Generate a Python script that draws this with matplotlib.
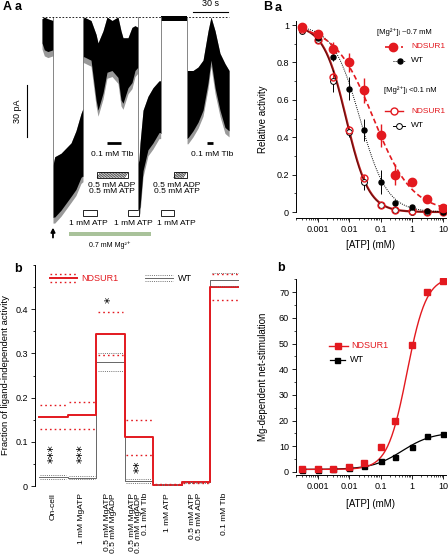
import numpy as np
import matplotlib
matplotlib.use('Agg')
import matplotlib.pyplot as plt
from matplotlib.patches import Rectangle
from matplotlib.ticker import LogLocator, MultipleLocator, FuncFormatter, NullFormatter

plt.rcParams['font.family'] = ['Liberation Sans', 'DejaVu Sans']
plt.rcParams['axes.linewidth'] = 0.7

RED = '#e3191f'
DARKRED = '#b81c1c'

# ---------------- A a : current trace (envelope of the noisy record, s / pA)
trace1_t = [0.0, 2.0, 5.0, 9.4]
trace1_up = [-1, 0, -1, -2]
trace1_lo = [-15, -19, -20, -19]
trace2_t = [9.4, 10.9, 16.3, 24.9, 29.1, 33.4, 35.1]
trace2_up = [-86, -81, -79, -73, -66, -56, -53]
trace2_lo = [-116, -116, -112, -104, -100, -93, -92]
trace3_t = [35.1, 36.0, 42.0, 46.3, 48.0, 52.3, 55.7, 60.0, 65.1, 67.7, 69.4, 73.7, 77.1, 79.7, 82.3]
trace3_up = [-2, 0, -2, -10, -15, -8, 0, -2, 0, -8, -12, -12, -6, -5, -6]
trace3_lo = [-23, -23, -25, -48, -54, -44, -32, -31, -35, -48, -50, -41, -38, -31, -29]
trace4_t = [82.3, 83.1, 84.0, 86.6, 90.8, 95.1, 100.3, 101.7]
trace4_up = [-85, -83, -73, -54, -46, -41, -37, -37]
trace4_lo = [-112, -112, -110, -89, -77, -73, -67, -67]
trace5_t = [101.7, 124.3]
trace5_up = [0.6, 0.6]
trace5_lo = [-2.0, -2.0]
trace6_t = [124.3, 125.1, 129.4, 133.7, 138.0, 142.3, 144.8, 148.3, 152.5, 156.8, 160.3]
trace6_up = [-31, -31, -31, -29, -25, -8, 0, -8, -21, -27, -31]
trace6_lo = [-70, -70, -66, -61, -54, -38, -25, -41, -54, -64, -66]

tlb_on, tlb_off = [55.7, 141.4], [67.7, 146.6]
tlb_text_x = [60.0, 146.0]
adp_on, adp_off = [47.0, 112.7], [73.7, 124.3]
adp_text_x = [60.0, 115.5]
atp_on, atp_off = [35.1, 73.7, 101.7], [47.0, 83.1, 112.7]
atp_text_x = [39.4, 78.0, 115.5]
mg_on, mg_off = 23.0, 93.4
wash_t = 9.4

# ---------------- A b : fraction of ligand-independent activity
cat_labels = ['On-cell', '1 mM MgATP', '0.5 mM MgATP\n0.5 mM MgADP',
              '0.5 mM MgATP\n0.5 mM MgADP\n0.1 mM Tlb', '1 mM ATP',
              '0.5 mM ATP\n0.5 mM ADP', '0.1 mM Tlb']
nd_mean = [0.156, 0.160, 0.345, 0.110, 0.003, 0.008, 0.450]
nd_hi = [0.183, 0.189, 0.393, 0.150, 0.005, 0.010, 0.480]
nd_lo = [0.129, 0.130, 0.296, 0.070, 0.002, 0.006, 0.420]
wt_mean = [0.021, 0.019, 0.280, 0.012, 0.003, 0.008, 0.467]
wt_hi = [0.026, 0.023, 0.300, 0.016, 0.004, 0.009, 0.482]
wt_lo = [0.016, 0.015, 0.260, 0.006, 0.002, 0.007, 0.452]
stars = ['***', '***', '*', '**', '', '', '']
star_y = [0.074, 0.074, 0.42, 0.043, 0, 0, 0]
ab_yticks = [0, 0.1, 0.2, 0.3, 0.4]
ab_ylabels = ['0', '0.1', '0.2', '0.3', '0.4']

# ---------------- B a : ATP inhibition
atp = [0.0003, 0.001, 0.003, 0.01, 0.03, 0.1, 0.3, 1, 3, 10]
nd_mg = [0.99, 0.95, 0.87, 0.80, 0.65, 0.41, 0.20, 0.16, 0.07, 0.023]
nd_mg_err = [0.0, 0.01, 0.04, 0.05, 0.065, 0.06, 0.055, 0.02, 0.01, 0.0]
wt_mg = [0.985, 0.93, 0.83, 0.66, 0.44, 0.16, 0.05, 0.025, 0.008, 0.0]
wt_mg_err = [0.0, 0.01, 0.02, 0.06, 0.06, 0.065, 0.015, 0.01, 0.0, 0.0]
nd_0 = [0.98, 0.92, 0.72, 0.44, 0.18, 0.04, 0.01, 0.003, 0.0, 0.0]
nd_0_err = [0.0, 0.01, 0.03, 0.02, 0.02, 0.01, 0.0, 0.0, 0.0, 0.0]
wt_0 = [0.97, 0.92, 0.70, 0.43, 0.16, 0.04, 0.01, 0.002, 0.0, 0.0]
wt_0_err = [0.0, 0.01, 0.06, 0.03, 0.04, 0.01, 0.0, 0.0, 0.0, 0.0]
# Hill fits (IC50 in mM, Hill coefficient)
nd_mg_fit = (0.06, 0.7)
wt_mg_fit = (0.022, 1.0)
nd_0_fit = (0.008, 1.2)
wt_0_fit = (0.0078, 1.2)

# ---------------- B b : Mg-dependent net stimulation
nd_stim = [1.0, 1.0, 1.1, 1.8, 3.4, 9.9, 19.7, 49.3, 70.0, 74.3]
wt_stim = [0.9, 0.9, 1.0, 1.5, 2.5, 4.2, 5.7, 9.6, 14.1, 14.8]
# base, max, EC50 (mM), Hill coefficient
nd_stim_fit = (1.0, 76.0, 0.7, 1.4)
wt_stim_fit = (1.0, 15.5, 0.5, 0.9)


def fpos(x0, y0, x1, y1):
    # pixel box -> figure fraction rect
    return [x0 / 448, 1 - y1 / 560, (x1 - x0) / 448, (y1 - y0) / 560]


fig = plt.figure(figsize=(4.48, 5.6), dpi=100)

# ======================= A a
ax = fig.add_axes(fpos(0, 0, 230, 260))
ax.set_xlim(-36.0, 161.1)
ax.set_ylim(-140.9, 9.9)
ax.axis('off')

segs = [(trace1_t, trace1_up, trace1_lo), (trace2_t, trace2_up, trace2_lo),
        (trace3_t, trace3_up, trace3_lo), (trace4_t, trace4_up, trace4_lo),
        (trace5_t, trace5_up, trace5_lo), (trace6_t, trace6_up, trace6_lo)]
for i, (t, up, lo) in enumerate(segs):
    t, up, lo = np.array(t), np.array(up), np.array(lo)
    fringe = 0.5 if i == 4 else 3.5
    ax.fill_between(t, lo - fringe, up, color='0.6', lw=0)
    ax.fill_between(t, lo, up, color='k', lw=0)
    if i > 0:
        prev_lo = segs[i - 1][2][-1]
        ax.plot([t[0], t[0]], [0, min(prev_lo, lo[0])], color='0.45', lw=0.6)

ax.plot([0, 160], [0, 0], color='k', lw=0.6, ls=(0, (2, 2)))

# scale bars
ax.plot([129.4, 159.4], [2.9, 2.9], color='k', lw=0.8)
ax.text(144.4, 5.5, '30 s', ha='center', va='bottom', fontsize=6.5)
ax.plot([-12.9, -12.9], [-39.4, -69.6], color='k', lw=0.8)
ax.text(-21.4, -54.5, '30 pA', rotation=90, ha='center', va='center', fontsize=6.5)

for a, b, tx in zip(tlb_on, tlb_off, tlb_text_x):
    ax.plot([a, b], [-73, -73], color='k', lw=2.0, solid_capstyle='butt')
    ax.text(tx, -79.5, '0.1 mM Tlb', ha='center', va='center', fontsize=6)
for a, b, tx in zip(adp_on, adp_off, adp_text_x):
    ax.add_patch(Rectangle((a, -93.4), b - a, 3.4, facecolor='white',
                           edgecolor='k', lw=0.6))
    # diagonal hatching inside the ADP bar
    for x0 in np.arange(a + 0.3, b - 3.0, 1.3):
        ax.plot([x0, x0 + 2.7], [-93.1, -90.3], color='k', lw=0.4)
    ax.text(tx, -95.5, '0.5 mM ADP\n0.5 mM ATP', ha='center', va='top',
            fontsize=6, linespacing=0.95)
for a, b, tx in zip(atp_on, atp_off, atp_text_x):
    ax.add_patch(Rectangle((a, -115.4), b - a, 3.4, facecolor='white',
                           edgecolor='k', lw=0.6))
    ax.text(tx, -120, '1 mM ATP', ha='center', va='center', fontsize=6)
ax.add_patch(Rectangle((mg_on, -127.2), mg_off - mg_on, 2.6, facecolor='#a9c29a',
                       edgecolor='none'))
ax.text((mg_on + mg_off) / 2, -132.5, '0.7 mM Mg²⁺', ha='center',
        va='center', fontsize=5)
ax.annotate('', xy=(wash_t, -120.5), xytext=(wash_t, -129.5),
            arrowprops=dict(arrowstyle='-|>', color='k', lw=1.3, mutation_scale=6))

# ======================= A b
ax = fig.add_axes(fpos(35, 265, 239, 486))
edges = np.arange(len(cat_labels) + 1)
ax.step(edges, wt_mean + [wt_mean[-1]], where='post', color='0.4', lw=0.7)
ax.step(edges, nd_mean + [nd_mean[-1]], where='post', color=RED, lw=1.4)
for i in range(len(cat_labels)):
    ax.plot([i + 0.05, i + 0.95], [wt_hi[i]] * 2, color='0.45', lw=0.7, ls=(0, (1, 1.2)))
    ax.plot([i + 0.05, i + 0.95], [wt_lo[i]] * 2, color='0.45', lw=0.7, ls=(0, (1, 1.2)))
    ax.plot([i + 0.05, i + 0.95], [nd_hi[i]] * 2, color=RED, lw=1.0, ls=(0, (1.2, 2.2)))
    ax.plot([i + 0.05, i + 0.95], [nd_lo[i]] * 2, color=RED, lw=1.0, ls=(0, (1.2, 2.2)))
    if stars[i]:
        ax.text(i + 0.5, star_y[i], stars[i], rotation=90, ha='center',
                va='center', fontsize=9, family='DejaVu Sans')
ax.set_xlim(-0.14, 7)
ax.set_ylim(0, 0.5)
for s in ['top', 'right', 'bottom']:
    ax.spines[s].set_visible(False)
ax.set_yticks(ab_yticks)
ax.set_yticklabels(ab_ylabels)
ax.yaxis.set_minor_locator(MultipleLocator(0.05))
ax.tick_params(axis='y', which='major', length=3, width=0.6, labelsize=6.5, pad=2)
ax.tick_params(axis='y', which='minor', length=1.5, width=0.6)
ax.set_xticks(np.arange(len(cat_labels)) + 0.5)
ax.set_xticklabels(cat_labels, rotation=90, va='top', ha='center',
                   multialignment='right', fontsize=6)
for lab in ax.get_xticklabels():
    lab.set_linespacing(0.95)
ax.tick_params(axis='x', length=0, pad=5)
ax.set_ylabel('Fraction of ligand-independent activity', fontsize=6.8)
ax.yaxis.set_label_coords(-0.125, 0.5)
# legend
tr = ax.transAxes
ax.plot([0.074, 0.206], [0.941, 0.941], color=RED, lw=1.4, transform=tr)
for dy in (0.019, -0.019):
    ax.plot([0.074, 0.206], [0.941 + dy] * 2, color=RED, lw=1.0, ls=(0, (1.2, 2.2)),
            transform=tr)
ax.text(0.225, 0.941, 'NDSUR1', color=RED, fontsize=6.5, va='center', transform=tr)
ax.plot([0.54, 0.676], [0.941, 0.941], color='0.4', lw=0.7, transform=tr)
for dy in (0.015, -0.015):
    ax.plot([0.54, 0.676], [0.941 + dy] * 2, color='0.45', lw=0.7, ls=(0, (1, 1.2)),
            transform=tr)
ax.text(0.70, 0.941, 'WT', color='k', fontsize=6.5, va='center', transform=tr)


def style_log_axis(ax):
    ax.set_xscale('log')
    ax.set_xlim(10 ** -3.704, 10 ** 1.096)
    ax.spines['top'].set_visible(False)
    ax.spines['right'].set_visible(False)
    ax.xaxis.set_major_locator(LogLocator(base=10, numticks=10))
    ax.xaxis.set_minor_locator(LogLocator(base=10, subs=np.arange(2, 10), numticks=10))
    ax.xaxis.set_minor_formatter(NullFormatter())
    ax.xaxis.set_major_formatter(FuncFormatter(lambda v, p: '%g' % v))
    ax.tick_params(which='major', length=3, width=0.6, labelsize=6.5, pad=2)
    ax.tick_params(which='minor', length=1.6, width=0.5)
    ax.set_xlabel('[ATP] (mM)', fontsize=7)
    ax.xaxis.set_label_coords(0.5, -0.112)


# ======================= B a
ax = fig.add_axes(fpos(296, 20, 446, 218))
style_log_axis(ax)
ax.set_ylim(-0.032, 1.027)
ax.spines['left'].set_bounds(0, 1.02)
ax.yaxis.set_major_locator(MultipleLocator(0.2))
ax.yaxis.set_minor_locator(MultipleLocator(0.1))
ax.yaxis.set_major_formatter(FuncFormatter(lambda v, p: '%g' % round(v, 2)))
ax.set_ylabel('Relative activity', fontsize=7)
ax.yaxis.set_label_coords(-0.187, 0.5)

xs = np.logspace(np.log10(atp[0]), 1, 200)
hill = lambda p: 1 / (1 + (xs / p[0]) ** p[1])
ax.plot(xs, hill(nd_0_fit), color=DARKRED, lw=1.6)
ax.plot(xs, hill(wt_0_fit), color='k', lw=0.6, alpha=0.55)
ax.plot(xs, hill(wt_mg_fit), color='k', lw=0.7, ls=(0, (1, 1.2)))
ax.plot(xs, hill(nd_mg_fit), color=RED, lw=1.2, ls=(0, (3, 1.8)))
ax.errorbar(atp, wt_0, yerr=wt_0_err, fmt='o', ms=4.2, mfc='white', mec='k',
            mew=0.7, ecolor='k', elinewidth=0.7, capsize=0)
ax.errorbar(atp, nd_0, yerr=nd_0_err, fmt='o', ms=5, mfc='none', mec=RED,
            mew=1.0, ecolor=RED, elinewidth=0.8, capsize=0)
ax.errorbar(atp, wt_mg, yerr=wt_mg_err, fmt='o', ms=3.6, color='k',
            elinewidth=0.7, capsize=0)
ax.errorbar(atp, nd_mg, yerr=nd_mg_err, fmt='o', ms=6, color=RED,
            elinewidth=1.0, capsize=0)
# legend
tr = ax.transAxes
ax.text(0.54, 0.939, '[Mg²⁺]ᵢ ~0.7 mM', fontsize=5.5, va='center', transform=tr)
ax.plot([0.593, 0.713], [0.864] * 2, color=RED, lw=1.2, ls=(0, (3, 1.8)), transform=tr)
ax.plot([0.647], [0.864], 'o', ms=6, color=RED, transform=tr)
ax.text(0.767, 0.864, 'NDSUR1', color=RED, fontsize=6, va='center', transform=tr)
ax.plot([0.647, 0.727], [0.793] * 2, color='k', lw=0.7, ls=(0, (1, 1.2)), transform=tr)
ax.plot([0.693], [0.793], 'o', ms=3.6, color='k', transform=tr)
ax.text(0.767, 0.793, 'WT', fontsize=6, va='center', transform=tr)
ax.text(0.587, 0.646, '[Mg²⁺]ᵢ <0.1 nM', fontsize=5.5, va='center', transform=tr)
ax.plot([0.593, 0.713], [0.540] * 2, color=RED, lw=1.0, transform=tr)
ax.plot([0.653], [0.540], 'o', ms=5, mfc='white', mec=RED, mew=1.0, transform=tr)
ax.text(0.767, 0.540, 'NDSUR1', color=RED, fontsize=6, va='center', transform=tr)
ax.plot([0.647, 0.727], [0.465] * 2, color='k', lw=0.7, transform=tr)
ax.plot([0.687], [0.465], 'o', ms=4.2, mfc='white', mec='k', mew=0.7, transform=tr)
ax.text(0.767, 0.465, 'WT', fontsize=6, va='center', transform=tr)

# ======================= B b
ax = fig.add_axes(fpos(296, 278, 446, 475))
style_log_axis(ax)
ax.set_ylim(-1.17, 75.5)
ax.spines['left'].set_bounds(0, 75)
ax.yaxis.set_major_locator(MultipleLocator(10))
ax.yaxis.set_minor_locator(MultipleLocator(5))
ax.set_ylabel('Mg-dependent net-stimulation', fontsize=7)
ax.yaxis.set_label_coords(-0.187, 0.5)
ax.xaxis.set_label_coords(0.5, -0.122)

stim = lambda p: p[0] + (p[1] - p[0]) / (1 + (p[2] / xs) ** p[3])
ax.plot(xs, stim(wt_stim_fit), color='k', lw=0.9)
ax.plot(xs, stim(nd_stim_fit), color=RED, lw=1.0)
ax.plot(atp, wt_stim, 's', ms=3.6, color='k')
ax.plot(atp, nd_stim, 's', ms=4.0, color=RED)
tr = ax.transAxes
ax.plot([0.22, 0.347], [0.655] * 2, color=RED, lw=1.0, transform=tr)
ax.plot([0.28], [0.655], 's', ms=4.0, color=RED, transform=tr)
ax.text(0.367, 0.655, 'NDSUR1', color=RED, fontsize=6.5, va='center', transform=tr)
ax.plot([0.227, 0.327], [0.584] * 2, color='k', lw=0.9, transform=tr)
ax.plot([0.273], [0.584], 's', ms=3.6, color='k', transform=tr)
ax.text(0.36, 0.584, 'WT', fontsize=6.5, va='center', transform=tr)

# panel letters
for x, y, s in [(3, 7, 'A'), (15, 7, 'a'), (263, 7, 'B'), (275, 8, 'a'),
                (14, 269, 'b'), (277, 268, 'b')]:
    fig.text(x / 448, 1 - y / 560, s, fontsize=9, fontweight='bold', va='center')

fig.savefig('out.png', dpi=100)
